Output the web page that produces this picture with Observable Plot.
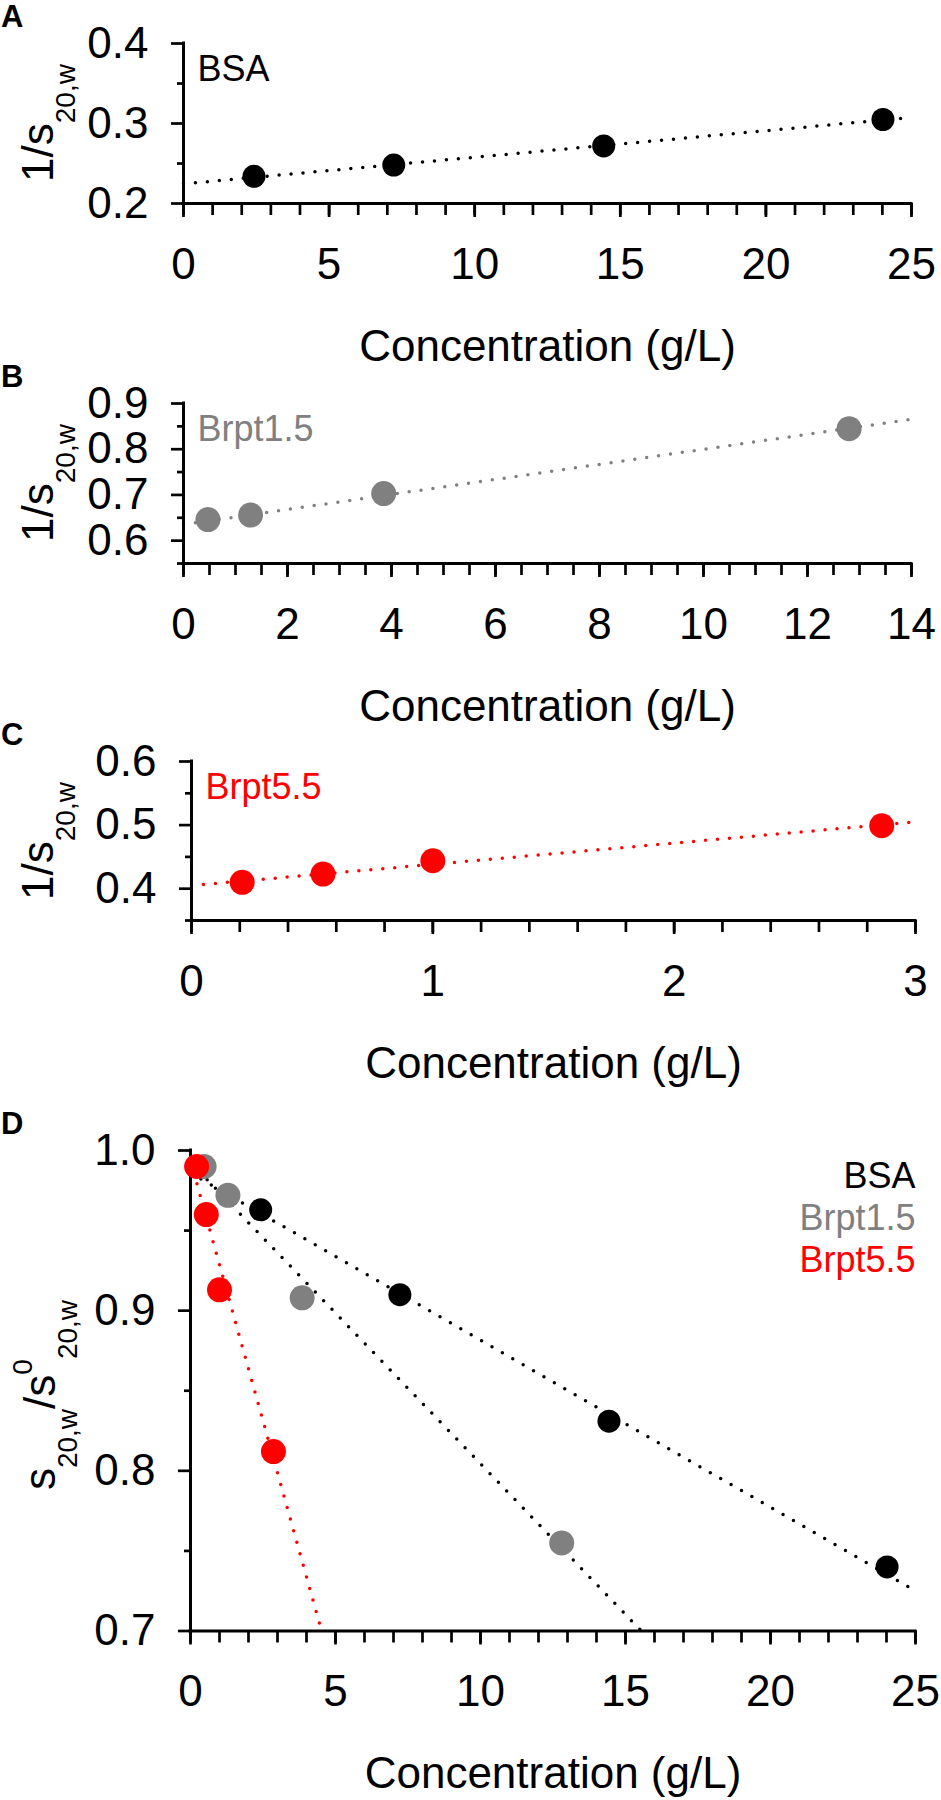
<!DOCTYPE html>
<html>
<head>
<meta charset="utf-8">
<script src="https://cdn.jsdelivr.net/npm/d3@7"></script>
<script src="https://cdn.jsdelivr.net/npm/@observablehq/plot@0.6"></script>
<style>
  html, body { margin: 0; padding: 0; background: #fff; overflow: hidden; }
  #wrap { position: relative; width: 941px; height: 1800px; overflow: hidden; background: #fff; }
  #wrap svg { position: absolute; left: 0; }
</style>
</head>
<body>
<div id="wrap"></div>
<script>
// ---------- data ----------
const seriesNames = ["BSA", "Brpt1.5", "Brpt5.5"];

const bsaConc     = [2.42, 7.22, 14.43, 24.02];
const bsaInvS     = [0.234, 0.248, 0.272, 0.305];
const bsaRatio    = [0.963, 0.910, 0.831, 0.740];

const brpt15Conc  = [0.47, 1.29, 3.85, 12.8];
const brpt15InvS  = [0.646, 0.656, 0.703, 0.845];
const brpt15Ratio = [0.990, 0.972, 0.908, 0.755];

const brpt55Conc  = [0.21, 0.545, 1.0, 2.86];
const brpt55InvS  = [0.410, 0.423, 0.444, 0.499];
const brpt55Ratio = [0.990, 0.960, 0.913, 0.812];

// fitted (dotted) lines: endpoints
const fitBsaConcA = [0, 25],      fitBsaInvS   = [0.2246, 0.3076];
const fit15ConcB  = [0, 14],      fit15InvS    = [0.6353, 0.8656];
const fit55ConcC  = [0, 3],       fit55InvS    = [0.405, 0.505];
const fitBsaConcD = [0, 25],      fitBsaRatio  = [0.986, 0.725];
const fit15ConcD  = [0, 15.55],   fit15Ratio   = [0.9926, 0.700];
const fit55ConcD  = [0, 4.52],    fit55Ratio   = [0.9936, 0.700];

// axis ticks
const xMajorA = [0, 5, 10, 15, 20, 25];
const xMajorB = [0, 2, 4, 6, 8, 10, 12, 14];
const xMajorC = [0, 1, 2, 3];
const xMajorD = [0, 5, 10, 15, 20, 25];
const yMajorA = [0.2, 0.3, 0.4];
const yMinorA = [0.25, 0.35];
const yMajorB = [0.6, 0.7, 0.8, 0.9];
const yMinorB = [0.55, 0.65, 0.75, 0.85];
const yMajorC = [0.4, 0.5, 0.6];
const yMinorC = [0.35, 0.45, 0.55];
const yMajorD = [0.7, 0.8, 0.9, 1.0];
const yMinorD = [0.75, 0.85, 0.95];
const xTitle = "Concentration (g/L)";
const panelLetters = ["A", "B", "C", "D"];

// ---------- styling ----------
const FONT = '"Liberation Sans", Arial, Helvetica, sans-serif';
const BLACK = "#000000", GRAY = "#808080", RED = "#ff0000";

const rows = (xs, ys) => xs.map((x, i) => ({x, y: ys[i]}));

function fitLine(xs, ys, color) {
  return Plot.line(rows(xs, ys), {x: "x", y: "y", stroke: color, strokeWidth: 3.5,
    strokeDasharray: "0,12", strokeLinecap: "round"});
}
function dots(xs, ys, color, r) {
  return Plot.dot(rows(xs, ys), {x: "x", y: "y", r, fill: color, stroke: "none"});
}

function panel(cfg) {
  const frameH = cfg.frameH;
  const marks = [
    ...cfg.lines,
    Plot.ruleY([cfg.yDomain[0]], {stroke: BLACK, strokeWidth: 3, strokeLinecap: "square"}),
    Plot.ruleX([cfg.xDomain[0]], {stroke: BLACK, strokeWidth: 3, strokeLinecap: "square"}),
    Plot.axisX(cfg.xMinor, {tickSize: 12, tickFormat: () => "", strokeWidth: 2.7, label: null}),
    Plot.axisX(cfg.xMajor, {tickSize: 14, tickPadding: 30, fontSize: 44, fontFamily: FONT,
      tickFormat: d3.format("d"), strokeWidth: 2.7, label: null}),
    Plot.axisY(cfg.yMinor, {tickSize: 6, tickFormat: () => "", strokeWidth: 2.7, label: null}),
    Plot.axisY(cfg.yMajor, {tickSize: 12, tickPadding: 23, fontSize: 44, fontFamily: FONT,
      tickFormat: d3.format(".1f"), strokeWidth: 2.7, label: null}),
    ...cfg.dots,
    Plot.text([xTitle], {frameAnchor: "bottom", dy: 143, fontSize: 44, fontFamily: FONT,
      lineAnchor: "middle", fill: BLACK}),
    ...cfg.labels
  ];
  const svg = Plot.plot({
    width: 941,
    height: cfg.height,
    marginTop: 43,
    marginBottom: cfg.height - 43 - frameH,
    marginLeft: cfg.marginLeft,
    marginRight: cfg.marginRight,
    x: {domain: cfg.xDomain},
    y: {domain: cfg.yDomain},
    style: {fontFamily: FONT, background: "transparent", overflow: "visible"},
    marks
  });
  svg.style.top = cfg.top + "px";
  // panel letter
  d3.select(svg).append("text")
    .attr("x", 1).attr("y", 27)
    .style("font-family", FONT).style("font-weight", "bold").style("font-size", "31px")
    .attr("text-anchor", "start").attr("fill", BLACK)
    .text(cfg.letter);
  // rotated y title with sub/superscripts
  const t = d3.select(svg).append("text")
    .attr("transform", `translate(${cfg.yTitleX},${cfg.yTitleY}) rotate(-90)`)
    .attr("text-anchor", "middle").style("font-family", FONT).attr("fill", BLACK);
  let prev = 0;
  for (const s of cfg.yTitle) {
    t.append("tspan").style("font-size", s.size + "px").attr("dy", s.shift - prev).text(s.text);
    prev = s.shift;
  }
  document.getElementById("wrap").appendChild(svg);
}

const invTitle = [
  {text: "1/s", size: 44, shift: 0},
  {text: "20,w", size: 28, shift: 22}
];
const ratioTitle = [
  {text: "s", size: 44, shift: 0},
  {text: "20,w", size: 28, shift: 22},
  {text: "/s", size: 44, shift: 0},
  {text: "0", size: 28, shift: -23},
  {text: "20,w", size: 28, shift: 22}
];

const labelText = (name, color, dy, anchor) => Plot.text([name], {
  frameAnchor: anchor, dx: anchor === "top-left" ? 14 : 0, dy, fontSize: 36, fontFamily: FONT,
  fill: color, textAnchor: anchor === "top-left" ? "start" : "end", lineAnchor: "bottom"
});

// Panel A
panel({
  top: 0, height: 378, frameH: 160, marginLeft: 183, marginRight: 30,
  xDomain: [0, 25], yDomain: [0.2, 0.4],
  xMajor: xMajorA, xMinor: d3.range(0, 25.01, 1), yMajor: yMajorA, yMinor: yMinorA,
  lines: [fitLine(fitBsaConcA, fitBsaInvS, BLACK)],
  dots: [dots(bsaConc, bsaInvS, BLACK, 11.5)],
  labels: [labelText(seriesNames[0], BLACK, 37, "top-left")],
  letter: panelLetters[0], yTitle: invTitle, yTitleX: 53, yTitleY: 123
});

// Panel B
panel({
  top: 360, height: 378, frameH: 160, marginLeft: 183, marginRight: 30,
  xDomain: [0, 14], yDomain: [0.55, 0.9],
  xMajor: xMajorB, xMinor: d3.range(0, 14.01, 0.5), yMajor: yMajorB, yMinor: yMinorB,
  lines: [fitLine(fit15ConcB, fit15InvS, GRAY)],
  dots: [dots(brpt15Conc, brpt15InvS, GRAY, 12.5)],
  labels: [labelText(seriesNames[1], GRAY, 37, "top-left")],
  letter: panelLetters[1], yTitle: invTitle, yTitleX: 53, yTitleY: 123
});

// Panel C
panel({
  top: 718, height: 378, frameH: 159, marginLeft: 191, marginRight: 26,
  xDomain: [0, 3], yDomain: [0.35, 0.6],
  xMajor: xMajorC, xMinor: d3.range(0, 3.001, 0.2), yMajor: yMajorC, yMinor: yMinorC,
  lines: [fitLine(fit55ConcC, fit55InvS, RED)],
  dots: [dots(brpt55Conc, brpt55InvS, RED, 12.5)],
  labels: [labelText(seriesNames[2], RED, 37, "top-left")],
  letter: panelLetters[2], yTitle: invTitle, yTitleX: 53, yTitleY: 123
});

// Panel D
panel({
  top: 1107, height: 693, frameH: 480.5, marginLeft: 190, marginRight: 26,
  xDomain: [0, 25], yDomain: [0.7, 1.0],
  xMajor: xMajorD, xMinor: d3.range(0, 25.01, 1), yMajor: yMajorD, yMinor: yMinorD,
  lines: [
    fitLine(fitBsaConcD, fitBsaRatio, BLACK),
    fitLine(fit15ConcD, fit15Ratio, BLACK),
    fitLine(fit55ConcD, fit55Ratio, RED)
  ],
  dots: [
    dots(bsaConc, bsaRatio, BLACK, 11.5),
    dots(brpt15Conc, brpt15Ratio, GRAY, 12.5),
    dots(brpt55Conc, brpt55Ratio, RED, 12.5)
  ],
  labels: [
    labelText(seriesNames[0], BLACK, 37, "top-right"),
    labelText(seriesNames[1], GRAY, 79, "top-right"),
    labelText(seriesNames[2], RED, 121, "top-right")
  ],
  letter: panelLetters[3], yTitle: ratioTitle, yTitleX: 55, yTitleY: 288
});
</script>
</body>
</html>
